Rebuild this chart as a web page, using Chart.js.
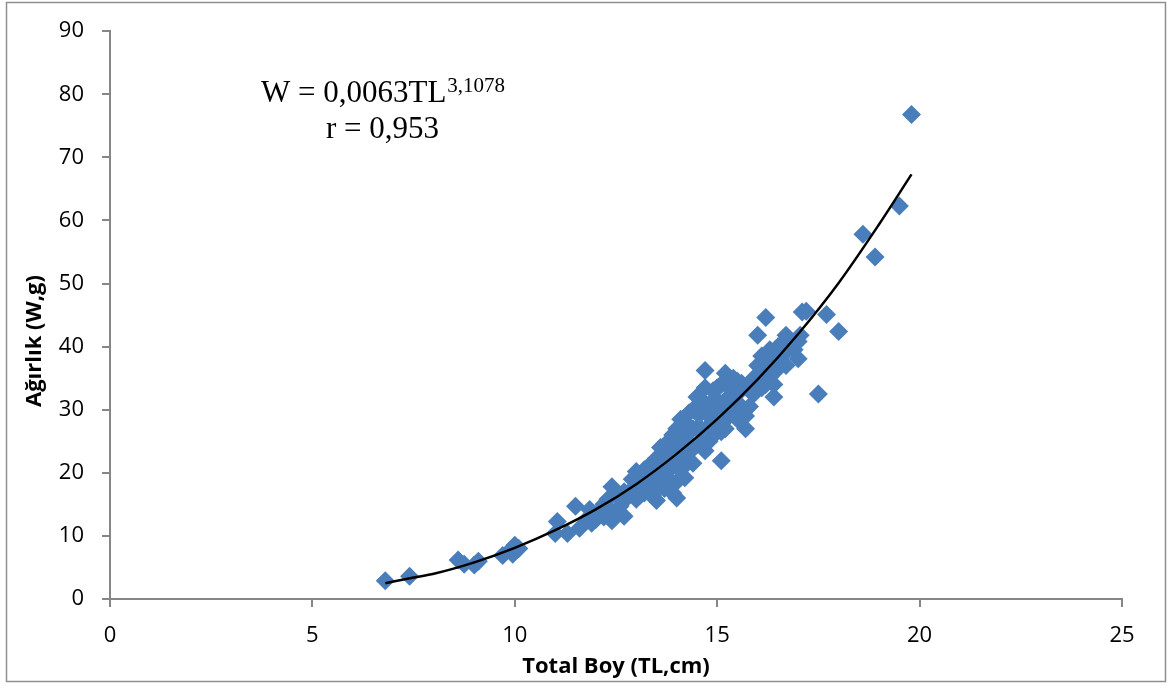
<!DOCTYPE html>
<html>
<head>
<meta charset="UTF-8">
<title>Ağırlık - Total Boy</title>
<script src="https://cdn.jsdelivr.net/npm/chart.js"></script>
<style>
  html, body { margin: 0; padding: 0; background: #fff; }
  #wrap { width: 1171px; height: 686px; }
</style>
</head>
<body>
<div id="wrap"><canvas id="chart" width="1171" height="686"></canvas></div>
<script>
// Total boy (TL, cm) and ağırlık (W, g)
const boyTL = [
  6.8, 7.4, 8.6, 8.75, 9.0, 9.1, 9.7, 9.9, 9.95, 10.0, 10.1,
  11.0, 11.05, 11.3, 11.5, 11.6, 11.85, 11.9, 12.0, 12.2, 12.2, 12.35, 12.4, 12.5, 12.4, 12.6, 12.7, 12.6,
  11.8, 12.1, 12.3, 12.7, 13.0,
  12.8, 12.9, 13.0, 13.0, 13.1, 13.2, 13.2, 13.3, 13.3, 13.4, 13.4, 13.5, 13.5, 13.5,
  12.9, 13.1, 13.3, 13.4, 13.6, 13.7, 13.8, 13.9,
  13.6, 13.6, 13.7, 13.7, 13.8, 13.8, 13.9, 13.9, 14.0, 14.0, 14.0, 14.0, 14.1, 14.1, 14.2, 14.2, 14.2,
  14.3, 14.3, 14.4, 14.4, 14.4, 14.5, 14.5,
  14.0, 14.1, 14.1, 14.2, 14.3, 14.3, 14.4, 14.5, 14.5,
  14.6, 14.6, 14.7, 14.7, 14.7, 14.8, 14.8, 14.9, 14.9, 15.0, 15.0, 15.0, 15.1, 15.1, 15.1, 15.2, 15.2,
  15.3, 15.3, 15.3,
  14.6, 14.6, 14.7, 14.8, 14.9, 14.9, 15.0, 15.1, 15.2, 15.2,
  15.4, 15.4, 15.5, 15.5, 15.6, 15.6, 15.7, 15.7, 15.8, 15.9, 16.0, 16.0, 16.0, 16.1, 16.1, 16.2, 16.2,
  16.2, 16.3,
  15.4, 15.5, 15.6, 15.8, 15.9, 16.1,
  16.3, 16.4, 16.4, 16.5, 16.5, 16.6, 16.7, 16.7, 16.8, 16.9, 17.0, 17.0, 17.05, 17.1, 17.2,
  16.3, 16.4, 16.5, 16.6,
  17.5, 17.7, 18.0, 18.6, 18.9, 19.5, 19.8
];
const agirlikW = [
  2.9, 3.6, 6.2, 5.5, 5.4, 6.0, 6.9, 7.8, 7.1, 8.5, 8.0,
  10.4, 12.3, 10.4, 14.7, 11.2, 14.2, 12.0, 12.6, 15.0, 13.0, 13.6, 17.8, 16.6, 12.4, 14.7, 13.1, 16.0,
  12.8, 14.0, 15.8, 17.0, 18.0,
  16.2, 17.4, 20.2, 15.8, 18.6, 16.8, 20.5, 19.0, 17.2, 21.5, 16.4, 18.5, 22.3, 15.6,
  19.0, 16.5, 21.0, 19.5, 18.0, 20.5, 23.0, 26.0,
  20.0, 24.0, 17.5, 22.0, 19.0, 25.0, 21.0, 16.8, 23.5, 27.0, 18.6, 16.0, 20.5, 25.5, 22.5, 28.0, 19.2,
  24.5, 26.8, 21.5, 30.0, 23.8, 32.0, 27.0,
  21.5, 23.0, 28.5, 25.5, 29.5, 22.0, 27.0, 24.5, 29.5,
  25.0, 29.5, 36.2, 23.5, 31.0, 27.5, 25.0, 30.0, 33.0, 26.5, 28.5, 31.5, 21.9, 29.5, 34.0, 35.8, 27.0,
  31.0, 29.0, 33.5,
  31.5, 27.0, 33.5, 29.0, 26.0, 31.5, 33.5, 26.5, 31.5, 29.0,
  30.0, 35.0, 28.5, 32.5, 34.2, 30.5, 27.0, 29.0, 33.0, 32.5, 37.0, 41.8, 35.0, 33.5, 38.5, 36.0, 44.6,
  34.0, 37.5,
  32.5, 34.5, 28.5, 30.5, 35.0, 36.5,
  35.2, 32.0, 39.0, 40.0, 36.5, 38.5, 41.8, 37.0, 40.2, 39.5, 38.1, 40.8, 41.8, 45.5, 45.6,
  39.5, 34.0, 38.0, 40.5,
  32.5, 45.1, 42.4, 57.8, 54.2, 62.3, 76.8
];

// power trend line
const trendTL = [6.8, 7.5, 8, 9, 10, 11, 12, 13, 14, 15, 16, 17, 18, 19, 19.8];
const trendW = [2.5, 3.4, 4.0, 5.8, 8.1, 10.9, 14.2, 18.2, 23.0, 28.5, 34.8, 42.0, 50.1, 59.4, 67.3];

const xTicks = [0, 5, 10, 15, 20, 25];
const yTicks = [0, 10, 20, 30, 40, 50, 60, 70, 80, 90];

const axisGray = '#868686';

const frameAndText = {
  id: 'frameAndText',
  beforeDraw(chart) {
    const ctx = chart.ctx;
    ctx.save();
    ctx.fillStyle = '#fff';
    ctx.fillRect(0, 0, chart.width, chart.height);
    ctx.strokeStyle = '#8f8f8f';
    ctx.lineWidth = 1.5;
    ctx.strokeRect(6.5, 2.5, 1159, 679);
    ctx.restore();
  },
  afterDraw(chart) {
    const ctx = chart.ctx;
    ctx.save();
    ctx.fillStyle = '#000';
    ctx.textBaseline = 'alphabetic';
    ctx.font = 'bold 22px "Open Sans"';
    ctx.textAlign = 'center';
    ctx.fillText('Total Boy (TL,cm)', 616, 673);
    ctx.translate(41, 341);
    ctx.rotate(-Math.PI / 2);
    ctx.fillText('Ağırlık (W,g)', 0, 0);
    ctx.restore();

    ctx.save();
    ctx.fillStyle = '#000';
    ctx.textAlign = 'left';
    ctx.textBaseline = 'alphabetic';
    ctx.font = '31px "Liberation Serif"';
    const main = 'W = 0,0063TL';
    ctx.fillText(main, 261, 102);
    const w = ctx.measureText(main).width;
    ctx.font = '21px "Liberation Serif"';
    ctx.fillText('3,1078', 261 + w + 1, 92);
    ctx.font = '31px "Liberation Serif"';
    ctx.fillText('r = 0,953', 326, 138);
    ctx.restore();
  }
};

new Chart(document.getElementById('chart'), {
  type: 'scatter',
  data: {
    datasets: [
      {
        label: 'W',
        data: boyTL.map((x, i) => ({ x: x, y: agirlikW[i] })),
        pointStyle: 'rectRot',
        pointRadius: 9.5,
        pointHoverRadius: 9.5,
        backgroundColor: '#4a7ebb',
        borderWidth: 0,
        order: 2
      },
      {
        label: 'Trend',
        type: 'line',
        data: trendTL.map((x, i) => ({ x: x, y: trendW[i] })),
        borderColor: '#000',
        borderWidth: 2.5,
        pointRadius: 0,
        fill: false,
        cubicInterpolationMode: 'monotone',
        order: 1
      }
    ]
  },
  plugins: [frameAndText],
  options: {
    responsive: false,
    animation: false,
    events: [],
    layout: { padding: { top: 27, right: 49, left: 0, bottom: 0 } },
    plugins: { legend: { display: false }, tooltip: { enabled: false } },
    scales: {
      x: {
        type: 'linear',
        min: 0,
        max: 25,
        afterBuildTicks: (s) => { s.ticks = xTicks.map(v => ({ value: v })); },
        afterFit: (s) => { s.height = 87; },
        border: { display: true, color: axisGray, width: 2 },
        grid: { drawOnChartArea: false, drawTicks: true, tickLength: 8, color: axisGray, lineWidth: 2 },
        ticks: { color: '#000', font: { family: 'Open Sans', size: 22 }, padding: 16, maxRotation: 0 }
      },
      y: {
        type: 'linear',
        min: 0,
        max: 90,
        afterBuildTicks: (s) => { s.ticks = yTicks.map(v => ({ value: v })); },
        afterFit: (s) => { s.width = 110; },
        border: { display: true, color: axisGray, width: 2 },
        grid: { drawOnChartArea: false, drawTicks: true, tickLength: 8, color: axisGray, lineWidth: 2 },
        ticks: { color: '#000', font: { family: 'Open Sans', size: 22 }, padding: 18 }
      }
    }
  }
});
</script>
</body>
</html>
